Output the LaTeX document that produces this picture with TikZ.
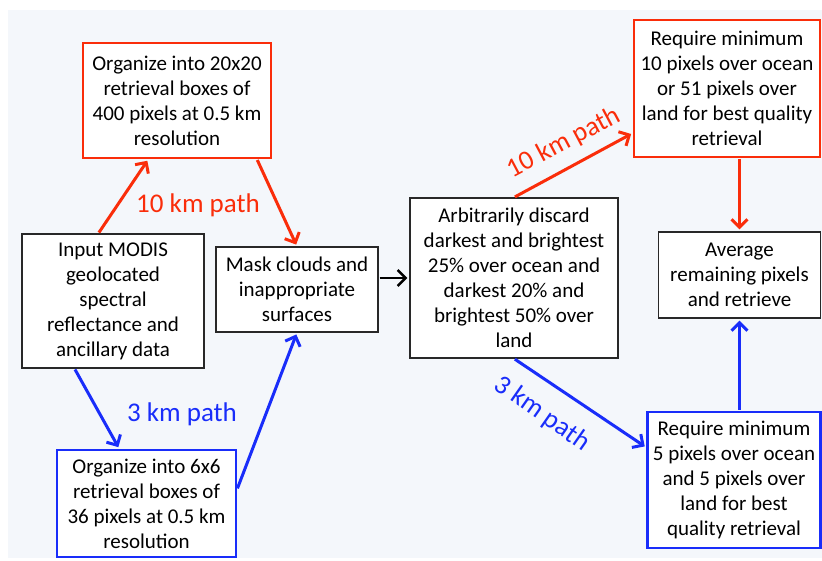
\documentclass[tikz,border=0pt]{standalone}
\usepackage{fontspec}
\setmainfont{Carlito}
\usetikzlibrary{arrows.meta,calc}
\definecolor{pathred}{RGB}{250,45,10}
\definecolor{pathblue}{RGB}{25,45,250}
\definecolor{bgcol}{RGB}{244,247,251}
\definecolor{boxline}{RGB}{40,40,40}
\begin{document}
\begin{tikzpicture}[x=1pt,y=-1pt,
  box/.style={draw=boxline,line width=1.2pt,fill=white,align=center,inner sep=0pt,
    font=\fontsize{21}{25}\selectfont},
  redbox/.style={box,draw=pathred,line width=2.2pt},
  bluebox/.style={box,draw=pathblue,line width=2.2pt},
  conn/.style={line width=3pt,shorten >=2pt,shorten <=1pt,-{Straight Barb[length=8pt,width=16pt]}},
  redconn/.style={conn,draw=pathred},
  blueconn/.style={conn,draw=pathblue},
  blackconn/.style={conn,draw=black,line width=2.5pt},
  lab/.style={font=\fontsize{27}{30}\selectfont,inner sep=0pt}
]
\useasboundingbox (0,0) rectangle (822,561);
\fill[bgcol] (8,10) rectangle (822,558);

\node[redbox,minimum width=188pt,minimum height=115pt] (r1) at (177,100.5)
  {Organize into 20x20\\retrieval boxes of\\400 pixels at 0.5 km\\resolution};
\node[box,minimum width=182pt,minimum height=134pt] (inp) at (113,301)
  {Input MODIS\\geolocated\\spectral\\reflectance and\\ancillary data};
\node[box,minimum width=162pt,minimum height=85pt] (mask) at (297,289.5)
  {Mask clouds and\\inappropriate\\surfaces};
\node[bluebox,minimum width=179pt,minimum height=107pt] (b1) at (146.5,503.5)
  {Organize into 6x6\\retrieval boxes of\\36 pixels at 0.5 km\\resolution};
\node[box,minimum width=208pt,minimum height=160pt] (disc) at (514,278)
  {Arbitrarily discard\\darkest and brightest\\25\% over ocean and\\darkest 20\% and\\brightest 50\% over\\land};
\node[redbox,minimum width=186pt,minimum height=137pt] (r2) at (727,88.5)
  {Require minimum\\10 pixels over ocean\\or 51 pixels over\\land for best quality\\retrieval};
\node[box,minimum width=162pt,minimum height=86pt] (avg) at (739.5,275)
  {Average\\remaining pixels\\and retrieve};
\node[bluebox,minimum width=173pt,minimum height=136pt] (b2) at (734,480)
  {Require minimum\\5 pixels over ocean\\and 5 pixels over\\land for best\\quality retrieval};

\draw[redconn] ($(inp.north west)!0.42!(inp.north east)$) -- ($(r1.south west)!0.35!(r1.south east)$);
\draw[redconn] ($(r1.south west)!0.92!(r1.south east)$) -- (mask.north);
\draw[blueconn] ($(inp.south west)!0.29!(inp.south east)$) -- ($(b1.north west)!0.35!(b1.north east)$);
\draw[blueconn] ($(b1.north east)!0.37!(b1.south east)$) -- (mask.south);
\draw[blackconn] (mask.east |- disc.west) -- (disc.west);
\draw[redconn] (disc.north) -- ($(r2.north west)!0.82!(r2.south west)$);
\draw[blueconn] (disc.south) -- ($(b2.north west)!0.265!(b2.south west)$);
\draw[redconn] (avg.north |- r2.south) -- (avg.north);
\draw[blueconn] (avg.south |- b2.north) -- (avg.south);

\node[lab,text=pathred] (l1) at (198,205) {10 km path};
\node[lab,text=pathblue] (l2) at (182,414) {3 km path};
\node[lab,text=pathred,rotate=28] (l3) at (564,143) {10 km path};
\node[lab,text=pathblue,rotate=-35] (l4) at (542,414) {3 km path};
\end{tikzpicture}
\end{document}
